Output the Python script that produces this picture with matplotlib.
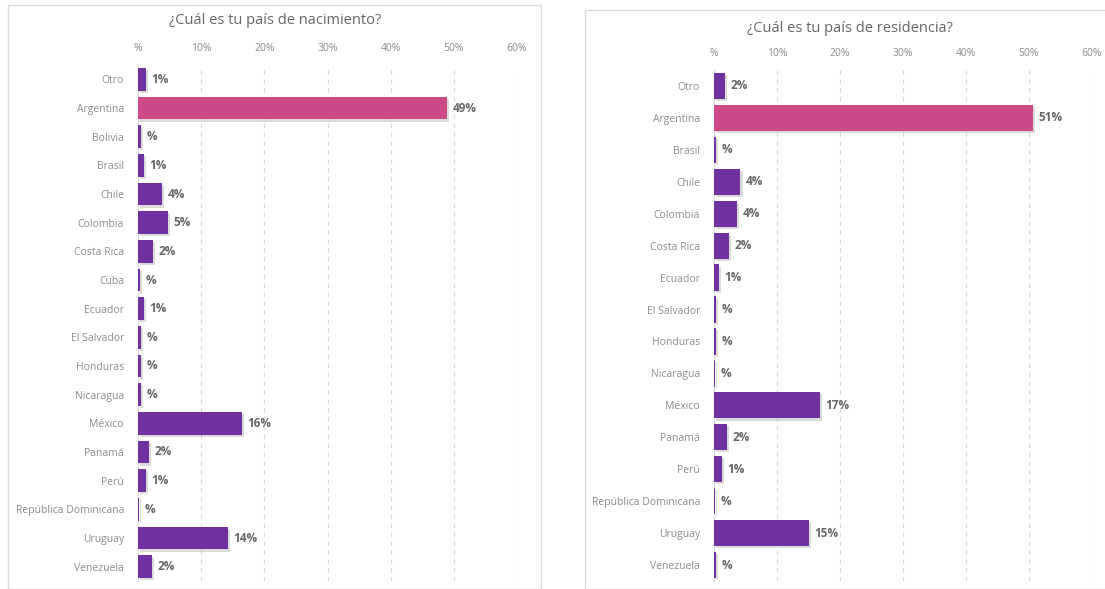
import matplotlib.pyplot as plt
import matplotlib.patheffects as pe
from matplotlib.patches import Rectangle

plt.rcParams['font.family'] = ['Open Sans', 'DejaVu Sans']

# Data (percent)
birth_countries = ["Otro", "Argentina", "Bolivia", "Brasil", "Chile", "Colombia", "Costa Rica",
                   "Cuba", "Ecuador", "El Salvador", "Honduras", "Nicaragua", "México", "Panamá",
                   "Perú", "República Dominicana", "Uruguay", "Venezuela"]
birth_values = [1.2, 48.9, 0.4, 0.9, 3.8, 4.7, 2.3, 0.3, 0.9, 0.4, 0.4, 0.4, 16.4, 1.7,
                1.2, 0.1, 14.2, 2.2]

res_countries = ["Otro", "Argentina", "Brasil", "Chile", "Colombia", "Costa Rica", "Ecuador",
                 "El Salvador", "Honduras", "Nicaragua", "México", "Panamá", "Perú",
                 "República Dominicana", "Uruguay", "Venezuela"]
res_values = [1.7, 50.6, 0.3, 4.2, 3.6, 2.4, 0.8, 0.3, 0.3, 0.2, 16.8, 2.0, 1.2, 0.2, 15.0, 0.3]

x_ticks = [0, 10, 20, 30, 40, 50, 60]
x_labels = ["%", "10%", "20%", "30%", "40%", "50%", "60%"]
highlight = "Argentina"

PURPLE = "#7030A0"
PINK = "#CC4A88"
GRID = "#D9D9D9"
TXT = "#8C8C8C"
LBL = "#666666"

W, H = 1105, 589
fig = plt.figure(figsize=(W / 100, H / 100), dpi=100)

# panel frames
fig.patches.append(Rectangle((8 / W, 0), 533 / W, 1 - 5 / H, transform=fig.transFigure,
                             fill=False, edgecolor=GRID, lw=1))
fig.patches.append(Rectangle((585 / W, 0), 525 / W, 1 - 10 / H, transform=fig.transFigure,
                             fill=False, edgecolor=GRID, lw=1))


def draw(rect, countries, values, bar_h):
    ax = fig.add_axes(rect)
    ypos = list(range(len(countries)))
    colors = [PINK if c == highlight else PURPLE for c in countries]
    bars = ax.barh(ypos, values, height=bar_h, color=colors, zorder=3)
    for b in bars:
        b.set_path_effects([pe.SimplePatchShadow(offset=(1.5, -1.5), shadow_rgbFace="#999999", alpha=0.35),
                            pe.Normal()])
    for y, v in zip(ypos, values):
        r = round(v)
        lab = f"{r}%" if r > 0 else "%"
        ax.text(v + 0.9, y, lab, va="center", ha="left", fontsize=8.5,
                fontweight="bold", color=LBL, zorder=4)
    ax.set_xlim(0, 60)
    ax.set_ylim(len(countries) - 0.5, -0.5)
    ax.set_yticks(ypos)
    ax.set_yticklabels(countries, fontsize=7.5, color=TXT)
    ax.set_xticks(x_ticks)
    ax.set_xticklabels(x_labels, fontsize=7.5, color=TXT)
    ax.xaxis.tick_top()
    ax.tick_params(axis="both", length=0)
    ax.tick_params(axis="y", pad=10)
    ax.tick_params(axis="x", pad=8)
    for s in ["top", "right", "bottom"]:
        ax.spines[s].set_visible(False)
    ax.spines["left"].set_color(GRID)
    ax.grid(axis="x", color=GRID, linestyle=(0, (4, 4)), lw=0.8, zorder=0)
    ax.set_axisbelow(True)
    return ax


draw([138 / W, 1 - 581 / H, 379 / W, 516 / H], birth_countries, birth_values, 0.8)
fig.text(275 / W, 1 - 20 / H, "¿Cuál es tu país de nacimiento?", ha="center", va="center",
         fontsize=10.5, color="#666666")

draw([714 / W, 1 - 581 / H, 378 / W, 511 / H], res_countries, res_values, 0.82)
fig.text(850 / W, 1 - 28 / H, "¿Cuál es tu país de residencia?", ha="center", va="center",
         fontsize=10.5, color="#666666")

fig.savefig("out.png", dpi=100, facecolor="white")
